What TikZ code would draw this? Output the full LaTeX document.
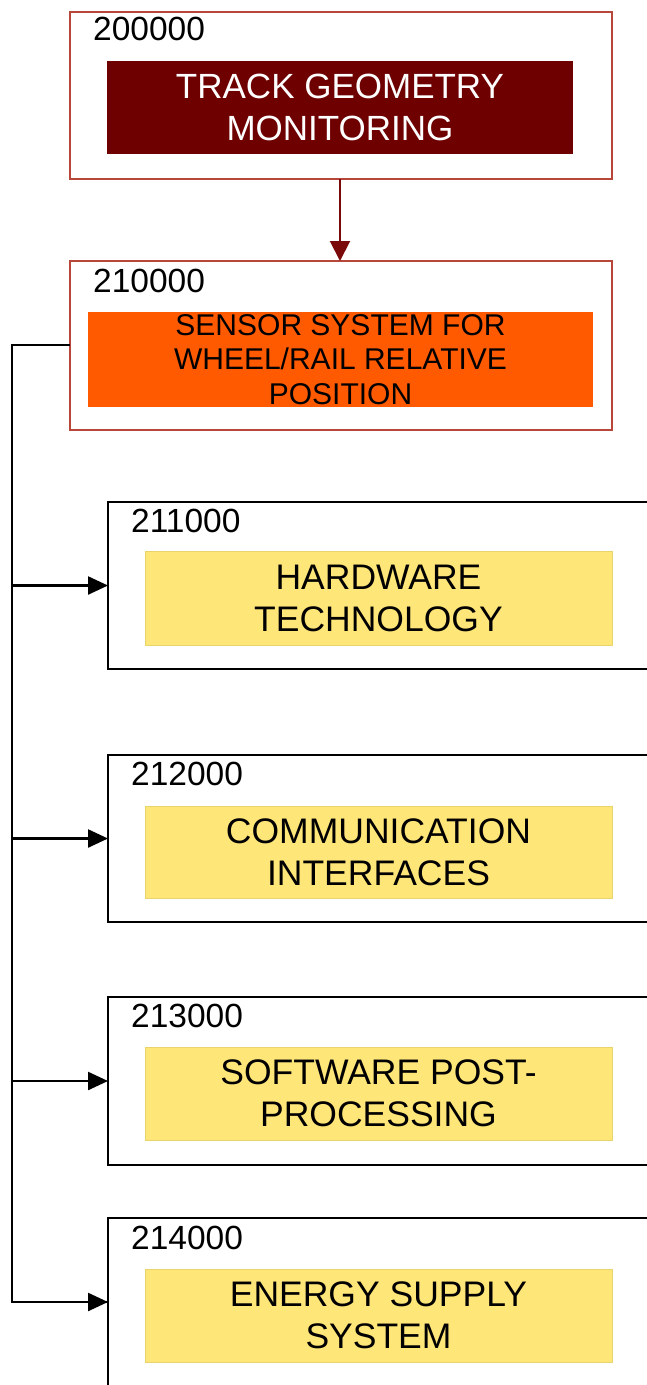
\documentclass[tikz,border=0pt]{standalone}
\usepackage{fontspec}
\setmainfont{Liberation Sans}
\usetikzlibrary{arrows.meta}
\definecolor{boxred}{HTML}{B8473B}
\definecolor{darkred}{HTML}{6E0000}
\definecolor{arrowred}{HTML}{7A0A0A}
\definecolor{orangefill}{HTML}{FF5A00}
\definecolor{yellowfill}{HTML}{FFE679}
\definecolor{yellowedge}{HTML}{E8D46A}
\begin{document}
\begin{tikzpicture}[x=1pt,y=-1pt,
  redouter/.style={draw=boxred, line width=2pt, minimum width=542pt, minimum height=167pt, anchor=north west, inner sep=0pt, outer sep=0pt},
  blackouter/.style={draw=black, line width=2.2pt, minimum width=560pt, minimum height=167pt, anchor=north west, inner sep=0pt, outer sep=0pt},
  codelabel/.style={anchor=west, inner sep=0pt, font=\fontsize{33.5}{40}\selectfont},
  bigtext/.style={align=center, inner sep=0pt, font=\fontsize{35.5}{42}\selectfont},
  yellowbox/.style={bigtext, fill=yellowfill, draw=yellowedge, line width=0.6pt, minimum width=467pt, minimum height=94pt},
  conn/.style={draw=black, line width=2.4pt},
  tip/.style={-{Triangle[length=20pt,width=18pt]}}
]
\useasboundingbox (0,0) rectangle (647,1385);

% top box
\node[redouter] (b0) at (70,12) {};
\node[codelabel] (l0) at (93,29) {200000};
\node[bigtext, fill=darkred, text=white, minimum width=466pt, minimum height=93pt, font=\fontsize{35}{42}\selectfont] (t0) at (340,107.5) {TRACK GEOMETRY\\MONITORING};

% second box
\node[redouter, minimum height=169pt] (b1) at (70,261) {};
\node[codelabel] (l1) at (93,281) {210000};
\node[align=center, inner sep=0pt, fill=orangefill, minimum width=505pt, minimum height=95pt, font=\fontsize{30}{34.5}\selectfont] (t1) at (340.5,359.5) {SENSOR SYSTEM FOR\\WHEEL/RAIL RELATIVE\\POSITION};

\draw[draw=arrowred, line width=2pt, -{Triangle[length=20pt,width=20pt]}] (b0.south -| t0) -- (b1.north -| t0);

% lower boxes
\node[blackouter] (b2) at (108,502) {};
\node[codelabel] (l2) at (131,521) {211000};
\node[yellowbox] (t2) at (378.5,598) {HARDWARE\\TECHNOLOGY};

\node[blackouter] (b3) at (108,755) {};
\node[codelabel] (l3) at (131,774) {212000};
\node[yellowbox, minimum height=92pt] (t3) at (378.5,852) {COMMUNICATION\\INTERFACES};

\node[blackouter, minimum height=168pt] (b4) at (108,997) {};
\node[codelabel] (l4) at (131,1016) {213000};
\node[yellowbox, minimum height=93pt] (t4) at (378.5,1093.5) {SOFTWARE POST-\\PROCESSING};

\node[blackouter, minimum height=180pt] (b5) at (108,1218) {};
\node[codelabel] (l5) at (131,1238) {214000};
\node[yellowbox, minimum height=93pt] (t5) at (378.5,1315.5) {ENERGY SUPPLY\\SYSTEM};

% connectors
\coordinate (trunk) at (12,345);
\coordinate (end5) at (108,1302);
\draw[conn] (b1.west |- trunk) -- (trunk) |- (end5);
\draw[conn, tip] (trunk |- b2.west) -- (b2.west);
\draw[conn, tip] (trunk |- b3.west) -- (b3.west);
\draw[conn, tip] (trunk |- b4.west) -- (b4.west);
\draw[conn, tip] (trunk |- end5) -- (end5);
\end{tikzpicture}
\end{document}
